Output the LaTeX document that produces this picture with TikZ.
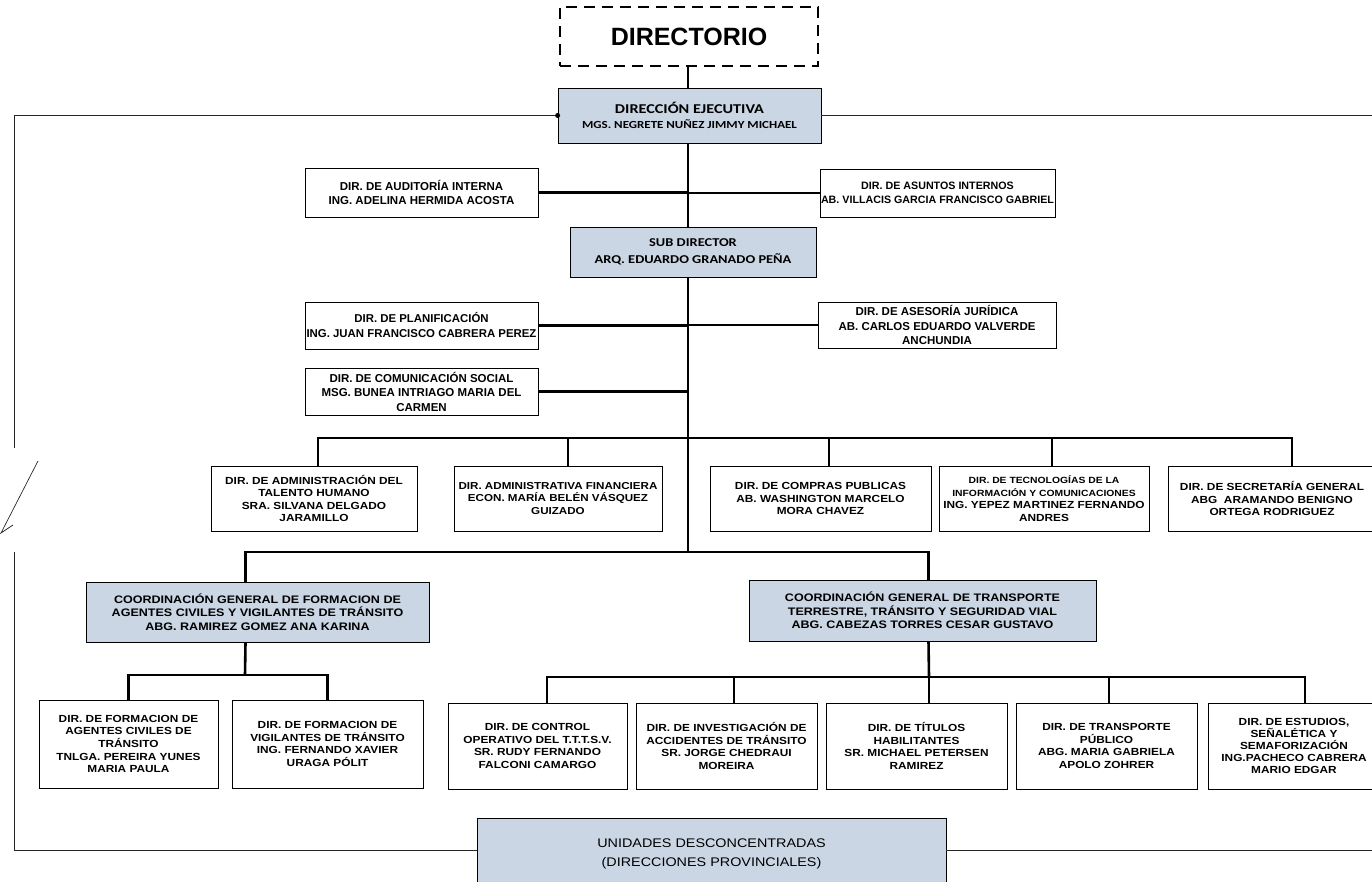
\documentclass[tikz,border=0pt]{standalone}
\usepackage{fontspec}
\setmainfont{Liberation Sans}
\newfontfamily\calfont[FakeStretch=1.2]{Carlito}
\newfontfamily\widefont[FakeStretch=1.15]{Liberation Sans}
\definecolor{headblue}{RGB}{203,214,228}
\newcommand{\upfont}{\bfseries\fontsize{11.5}{14.5}\selectfont}
\newcommand{\rowfont}{\widefont\bfseries\fontsize{10.3}{12.6}\selectfont}
\newcommand{\coordfont}{\widefont\bfseries\fontsize{10.9}{13.5}\selectfont}
\tikzstyle{unit}=[
	draw=black,
	line width=0.8pt,
	fill=white,
	align=center,
	inner sep=0pt
]
\tikzstyle{upbox}=[
	unit,
	font=\upfont
]
\tikzstyle{rowbox}=[
	unit,
	font=\rowfont
]
\tikzstyle{head}=[
	unit,
	fill=headblue
]
\tikzstyle{dirbox}=[
	draw=black,
	line width=2pt,
	dash pattern=on 11pt off 7pt,
	font=\bfseries\fontsize{25}{28}\selectfont
]
\tikzstyle{conn}=[
	-,
	draw=black,
	line width=2.6pt
]
\tikzstyle{frame}=[
	-,
	draw=black!85,
	line width=0.9pt
]
\tikzset{sz/.style 2 args={minimum width=#1, minimum height=#2}}
\begin{document}
\begin{tikzpicture}[x=1pt,y=-1pt]
\useasboundingbox (0,0) rectangle (1372,882);
\clip (0,0) rectangle (1372,882);

% top of the chart
\node[dirbox, sz={258pt}{59pt}] (dirt) at (689,36.5) {DIRECTORIO};
\node[head, sz={263pt}{55pt}, font=\calfont\bfseries\fontsize{10.8}{15.6}\selectfont] (ejec) at (689.5,115.5) {{\fontsize{13.5}{15.6}\selectfont DIRECCIÓN EJECUTIVA}\\MGS. NEGRETE NUÑEZ JIMMY MICHAEL};
\node[upbox, sz={233pt}{49pt}] (audit) at (421.5,192.5) {DIR. DE AUDITORÍA INTERNA\\ING. ADELINA HERMIDA ACOSTA};
\node[upbox, sz={235pt}{48pt}, font=\bfseries\fontsize{10.7}{14.5}\selectfont] (asuntos) at (937.5,193) {DIR. DE ASUNTOS INTERNOS\\AB. VILLACIS GARCIA FRANCISCO GABRIEL};
\node[head, sz={246pt}{50pt}, font=\calfont\bfseries\fontsize{12}{16.5}\selectfont] (sub) at (693,252) {SUB DIRECTOR\\ARQ. EDUARDO GRANADO PEÑA};
\node[upbox, sz={233pt}{47pt}, font=\bfseries\fontsize{11.4}{15}\selectfont] (plan) at (421.5,325.5) {DIR. DE PLANIFICACIÓN\\ING. JUAN FRANCISCO CABRERA PEREZ};
\node[upbox, sz={238pt}{46pt}] (juridica) at (937,325) {DIR. DE ASESORÍA JURÍDICA\\AB. CARLOS EDUARDO VALVERDE\\ANCHUNDIA};
\node[upbox, sz={233pt}{47pt}] (comun) at (421.5,391.5) {DIR. DE COMUNICACIÓN SOCIAL\\MSG. BUNEA INTRIAGO MARIA DEL\\CARMEN};

% first row of directions
\node[rowbox, sz={206pt}{65pt}] (talento) at (314,498.5) {DIR. DE ADMINISTRACIÓN DEL\\TALENTO HUMANO\\SRA. SILVANA DELGADO\\JARAMILLO};
\node[rowbox, sz={208pt}{65pt}, font=\widefont\bfseries\fontsize{10.1}{12.6}\selectfont] (financiera) at (558,498.5) {DIR. ADMINISTRATIVA FINANCIERA\\ECON. MARÍA BELÉN VÁSQUEZ\\GUIZADO};
\node[rowbox, sz={221pt}{65pt}] (compras) at (820.5,498.5) {DIR. DE COMPRAS PUBLICAS\\AB. WASHINGTON MARCELO\\MORA CHAVEZ};
\node[rowbox, sz={210pt}{65pt}] (tic) at (1044,498.5) {{\fontsize{9}{12.6}\selectfont DIR. DE TECNOLOGÍAS DE LA}\\{\fontsize{9}{12.6}\selectfont INFORMACIÓN Y COMUNICACIONES}\\ING. YEPEZ MARTINEZ FERNANDO\\ANDRES};
\node[rowbox, sz={208pt}{65pt}] (secretaria) at (1272,498.5) {DIR. DE SECRETARÍA GENERAL\\ABG\ \ ARAMANDO BENIGNO\\ORTEGA RODRIGUEZ};

% coordinations
\node[head, sz={343pt}{60pt}, font=\coordfont] (formacion) at (257.5,612) {COORDINACIÓN GENERAL DE FORMACION DE\\AGENTES CIVILES Y VIGILANTES DE TRÁNSITO\\ABG. RAMIREZ GOMEZ ANA KARINA};
\node[head, sz={347pt}{61pt}, font=\coordfont] (transporte) at (922.5,610.5) {COORDINACIÓN GENERAL DE TRANSPORTE\\TERRESTRE, TRÁNSITO Y SEGURIDAD VIAL\\ABG. CABEZAS TORRES CESAR GUSTAVO};

% bottom row
\node[rowbox, sz={179pt}{88pt}] (agentes) at (128.5,744) {DIR. DE FORMACION DE\\AGENTES CIVILES DE\\TRÁNSITO\\TNLGA. PEREIRA YUNES\\MARIA PAULA};
\node[rowbox, sz={191pt}{88pt}] (vigilantes) at (327.5,744) {DIR. DE FORMACION DE\\VIGILANTES DE TRÁNSITO\\ING. FERNANDO XAVIER\\URAGA PÓLIT};
\node[rowbox, sz={179pt}{86pt}] (control) at (537.5,746) {DIR. DE CONTROL\\OPERATIVO DEL T.T.T.S.V.\\SR. RUDY FERNANDO\\FALCONI CAMARGO};
\node[rowbox, sz={181pt}{86pt}] (accidentes) at (726.5,746) {DIR. DE INVESTIGACIÓN DE\\ACCIDENTES DE TRÁNSITO\\SR. JORGE CHEDRAUI\\MOREIRA};
\node[rowbox, sz={181pt}{86pt}] (titulos) at (916.5,746) {DIR. DE TÍTULOS\\HABILITANTES\\SR. MICHAEL PETERSEN\\RAMIREZ};
\node[rowbox, sz={181pt}{86pt}] (publico) at (1106.5,746) {DIR. DE TRANSPORTE\\PÚBLICO\\ABG. MARIA GABRIELA\\APOLO ZOHRER};
\node[rowbox, sz={172pt}{86pt}, font=\widefont\bfseries\fontsize{10.3}{12}\selectfont] (estudios) at (1294,746) {DIR. DE ESTUDIOS,\\SEÑALÉTICA Y\\SEMAFORIZACIÓN\\ING.PACHECO CABRERA\\MARIO EDGAR};

\node[head, sz={469pt}{72pt}, font=\widefont\fontsize{12.5}{19}\selectfont] (unidades) at (711.5,854) {UNIDADES DESCONCENTRADAS\\(DIRECCIONES PROVINCIALES)};

% buses
\coordinate (bus1) at (688,438);
\coordinate (bus2) at (688,552);
\coordinate (bus3) at (245,675);
\coordinate (bus4) at (929,677);

% trunk
\draw[conn] (dirt.south -| bus1) -- (ejec.north -| bus1);
\draw[conn] (ejec.south -| bus1) -- (sub.north -| bus1);
\draw[conn] (sub.south -| bus1) -- (bus2);
\draw[conn] (audit.east) -- (audit.east -| bus1);
\draw[conn] (asuntos.west) -- (asuntos.west -| bus1);
\draw[conn] (plan.east) -- (plan.east -| bus1);
\draw[conn] (juridica.west) -- (juridica.west -| bus1);
\draw[conn] (comun.east) -- (comun.east -| bus1);

% first row
\draw[conn] ([xshift=4pt]talento.north) |- (bus1) -| ([xshift=20pt]secretaria.north);
\foreach \n/\s in {financiera/10,compras/8.5,tic/8}
	\draw[conn] ([xshift=\s pt]\n.north) -- ([xshift=\s pt]\n.north |- bus1);

% coordinations
\draw[conn] ([xshift=-12pt]formacion.north) |- (bus2) -| ([xshift=6pt]transporte.north);
\draw[conn] ([xshift=-12pt]formacion.south) -- (bus3);
\draw[conn] (agentes.north) |- (bus3) -| (vigilantes.north);
\draw[conn] ([xshift=6pt]transporte.south) -- (bus4);
\draw[conn] ([xshift=9.5pt]control.north) |- (bus4) -| ([xshift=11pt]estudios.north);
\foreach \n/\s in {accidentes/7.5,titulos/12.5,publico/2.5}
	\draw[conn] ([xshift=\s pt]\n.north) -- ([xshift=\s pt]\n.north |- bus4);

% outer frame
\coordinate (ftl) at (14,115.5);
\coordinate (fgt) at (14,448);
\coordinate (fgb) at (14,552);
\coordinate (fbl) at (14,850);
\coordinate (fre) at (1372,115.5);
\coordinate (fbr) at (1372,850);
\draw[frame] (ejec.west) -- (ftl) -- (fgt);
\draw[frame] (fgb) -- (fbl) -- (fbl -| unidades.west);
\draw[frame] (ejec.east) -- (fre);
\draw[frame] (unidades.east |- fbl) -- (fbr);
\fill (ejec.west) circle (2.5pt);
\draw[frame, line width=0.7pt] (38,461) -- (1,533) -- (13,525);

\end{tikzpicture}
\end{document}
